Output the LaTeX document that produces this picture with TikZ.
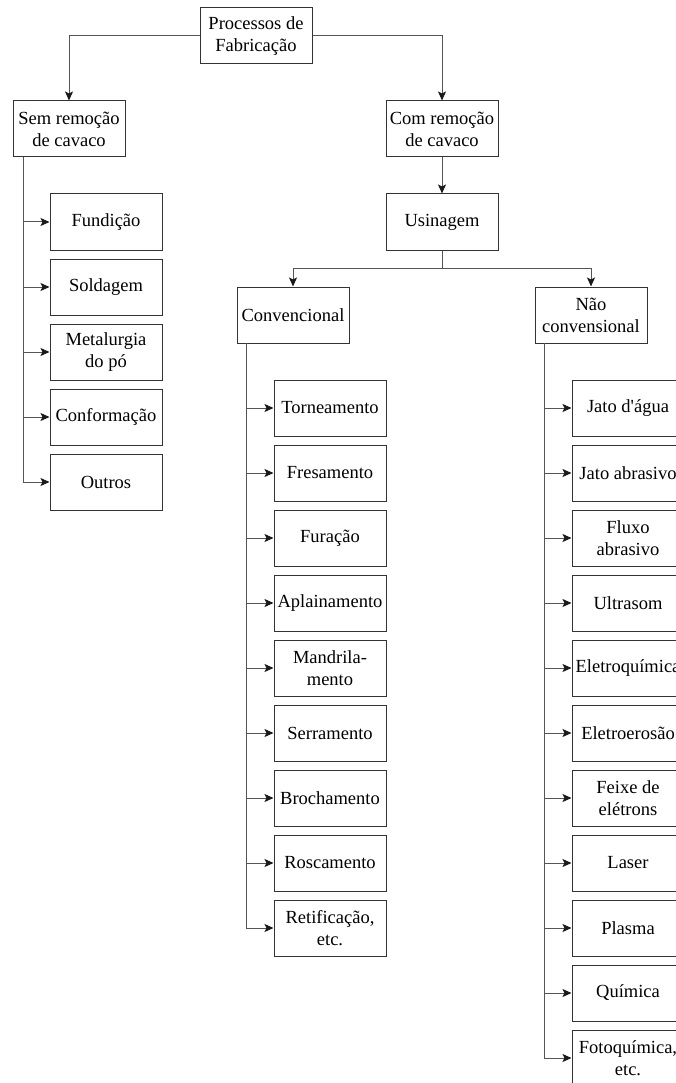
\documentclass[tikz,border=0pt]{standalone}
\usepackage{fontspec}
\setmainfont{Liberation Serif}
\usetikzlibrary{arrows.meta}
\definecolor{boxline}{HTML}{333333}
\definecolor{conline}{HTML}{555555}
\definecolor{tipcol}{HTML}{1A1A1A}
\begin{document}
\begin{tikzpicture}[x=1pt,y=-1pt,
  box/.style={draw=boxline,line width=1pt,minimum width=112pt,minimum height=56pt,inner sep=0pt,align=center,font=\fontsize{18.5}{22}\selectfont,text=black},
  arr/.style={draw=conline,line width=1pt,-{Stealth[length=9pt,width=8pt,inset=2pt,color=tipcol]}}]
\useasboundingbox (0,0) rectangle (675,1083);
% top level
\node[box] (proc) at (256,36) {Processos de\\Fabricação};
\node[box] (sem) at (69,129) {Sem remoção\\de cavaco};
\node[box] (com) at (442,129) {Com remoção\\de cavaco};
\node[box] (usi) at (442,222) {Usinagem};
\node[box] (conv) at (293,315) {Convencional};
\node[box] (nao) at (591,315) {Não\\convensional};
\coordinate (j) at (442,268);
\draw[arr] (proc.west) -| (sem.north);
\draw[arr] (proc.east) -| (com.north);
\draw[arr] (com.south) -- (usi.north);
\draw[draw=conline,line width=1pt] (usi.south) -- (j);
\draw[arr] (j) -| (conv.north);
\draw[arr] (j) -| (nao.north);
% left children
\coordinate (sA) at (23,157);
\foreach \t [count=\i from 0] in {Fundição,Soldagem,{Metalurgia\\do pó},Conformação,Outros}{
  \node[box] (l\i) at (106,222+65*\i) {\t};
  \draw[arr] (sA) |- (l\i.west);
}
% convencional children
\coordinate (sB) at (246,343);
\foreach \t [count=\i from 0] in {Torneamento,Fresamento,Furação,Aplainamento,{Mandrila-\\mento},Serramento,Brochamento,Roscamento,{Retificação,\\etc.}}{
  \node[box] (c\i) at (330,408+65*\i) {\t};
  \draw[arr] (sB) |- (c\i.west);
}
% nao convencional children
\coordinate (sC) at (544,343);
\foreach \t [count=\i from 0] in {Jato d\textquotesingle água,Jato abrasivo,{Fluxo\\abrasivo},Ultrasom,Eletroquímica,Eletroerosão,{Feixe de\\elétrons},Laser,Plasma,Química,{Fotoquímica,\\etc.}}{
  \node[box] (n\i) at (628,408+65*\i) {\t};
  \draw[arr] (sC) |- (n\i.west);
}
\end{tikzpicture}
\end{document}
